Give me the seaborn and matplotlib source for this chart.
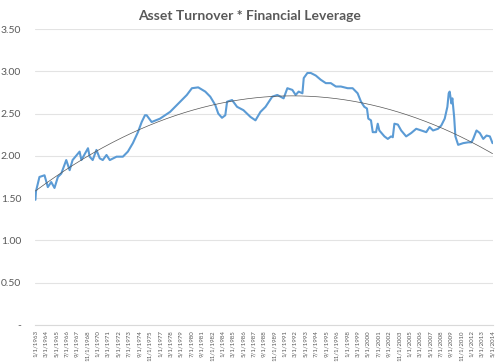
import numpy as np
import pandas as pd
import matplotlib
matplotlib.use("Agg")
import matplotlib.pyplot as plt
import seaborn as sns

# values (decimal year, ratio)
years = [1963.00, 1963.06, 1963.45, 1964.02, 1964.39, 1964.77, 1965.14, 1965.52, 1965.90,
         1966.46, 1966.84, 1967.17, 1967.96, 1968.16, 1968.90, 1969.09, 1969.43, 1969.85,
         1970.22, 1970.56, 1970.98, 1971.35, 1972.11, 1972.82, 1973.38, 1973.94, 1974.51,
         1974.93, 1975.30, 1975.49, 1976.05, 1976.99, 1978.12, 1979.25, 1980.00, 1980.57,
         1981.28, 1982.07, 1982.63, 1983.20, 1983.53, 1983.95, 1984.32, 1984.52, 1985.08,
         1985.64, 1986.36, 1987.15, 1987.71, 1988.27, 1988.84, 1989.59, 1990.16, 1990.87,
         1991.29, 1991.85, 1992.22, 1992.56, 1992.98, 1993.13, 1993.54, 1993.92, 1994.48,
         1995.04, 1995.61, 1996.17, 1996.74, 1997.30, 1998.06, 1998.62, 1999.18, 1999.56,
         1999.93, 2000.23, 2000.38, 2000.68, 2000.88, 2001.25, 2001.44, 2001.62, 2002.19,
         2002.57, 2002.94, 2003.13, 2003.31, 2003.70, 2004.07, 2004.63, 2005.20, 2005.76,
         2006.33, 2006.89, 2007.26, 2007.65, 2008.21, 2008.58, 2008.96, 2009.26, 2009.41,
         2009.52, 2009.71, 2009.82, 2010.02, 2010.16, 2010.47, 2011.03, 2011.60, 2011.97,
         2012.16, 2012.53, 2012.90, 2013.29, 2013.66, 2014.03, 2014.33]
ratio = [1.48, 1.58, 1.75, 1.77, 1.63, 1.69, 1.62, 1.75, 1.79,
         1.95, 1.83, 1.95, 2.05, 1.95, 2.09, 1.99, 1.95, 2.07,
         1.97, 1.95, 2.01, 1.95, 1.99, 1.99, 2.05, 2.15, 2.28,
         2.40, 2.48, 2.48, 2.40, 2.44, 2.52, 2.64, 2.72, 2.80,
         2.81, 2.76, 2.70, 2.60, 2.50, 2.45, 2.48, 2.64, 2.66,
         2.58, 2.54, 2.46, 2.42, 2.52, 2.58, 2.70, 2.72, 2.68,
         2.80, 2.78, 2.72, 2.76, 2.74, 2.92, 2.98, 2.98, 2.95,
         2.90, 2.86, 2.86, 2.82, 2.82, 2.80, 2.80, 2.74, 2.64,
         2.58, 2.56, 2.44, 2.42, 2.28, 2.28, 2.38, 2.30, 2.23,
         2.20, 2.23, 2.22, 2.38, 2.37, 2.30, 2.23, 2.27, 2.32,
         2.30, 2.28, 2.34, 2.30, 2.32, 2.36, 2.44, 2.58, 2.74,
         2.76, 2.62, 2.68, 2.46, 2.23, 2.13, 2.15, 2.16, 2.16,
         2.20, 2.30, 2.27, 2.20, 2.24, 2.23, 2.15]

y_ticks = [0, 0.5, 1.0, 1.5, 2.0, 2.5, 3.0, 3.5]

df = pd.DataFrame({"year": years, "ratio": ratio})

# x labels every 14 months, like the excel category axis
tick_months = np.arange(0, 617, 14)
tick_pos = 1963 + tick_months / 12
tick_labels = [f"{m % 12 + 1}/1/{1963 + m // 12}" for m in tick_months]

# 2nd order polynomial trendline (fit on a monthly grid)
grid = 1963 + np.arange(0, 617) / 12
monthly = np.interp(grid, df["year"], df["ratio"])
coef = np.polyfit(grid - 1963, monthly, 2)
trend = pd.DataFrame({"year": grid, "ratio": np.polyval(coef, grid - 1963)})

sns.set_theme(style="white")
plt.rcParams["font.family"] = ["Lato", "DejaVu Sans"]

fig = plt.figure(figsize=(5, 3.63), dpi=100)
ax = fig.add_axes([0.07, 0.105, 0.916, 0.815])

sns.lineplot(data=df, x="year", y="ratio", ax=ax, color="#5b9bd5", linewidth=1.5)
sns.lineplot(data=trend, x="year", y="ratio", ax=ax, color="#555555", linewidth=0.5)

ax.set_xlim(1963 - 0.05, 1963 + 616 / 12 + 0.05)
ax.set_ylim(0, 3.5)
ax.set_yticks(y_ticks)
ax.set_yticklabels(["-" if v == 0 else f"{v:.2f}" for v in y_ticks], color="#595959", fontsize=7.5)
ax.set_xticks(tick_pos)
ax.set_xticklabels(tick_labels, rotation=90, fontsize=4.4, color="#595959")
ax.tick_params(axis="y", length=0, pad=10)
ax.tick_params(axis="x", length=3, width=0.6, color="#d9d9d9", pad=1)
ax.yaxis.grid(True, color="#e3e3e3", linewidth=0.8)
ax.set_axisbelow(True)
for s in ["top", "right", "left"]:
    ax.spines[s].set_visible(False)
ax.spines["bottom"].set_color("#d9d9d9")
ax.spines["bottom"].set_linewidth(0.8)
ax.set_xlabel("")
ax.set_ylabel("")

fig.text(0.5, 0.955, "Asset Turnover * Financial Leverage", ha="center", va="center",
         fontsize=10, fontweight="bold", color="#595959")

fig.savefig("out.png", dpi=100)
